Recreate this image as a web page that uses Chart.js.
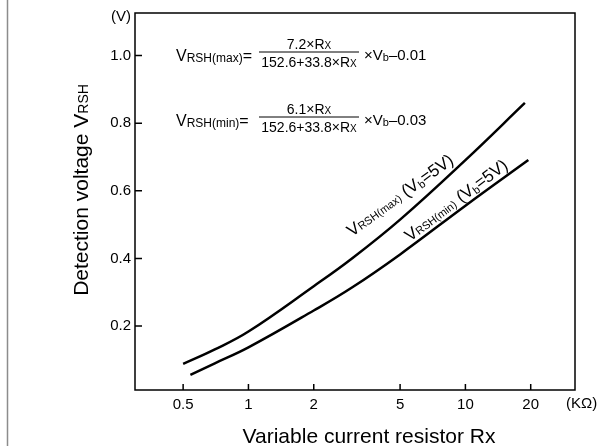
<!DOCTYPE html>
<html lang="en">
<head>
  <meta charset="UTF-8" />
  <title>Detection voltage vs Variable current resistor</title>
  <script src="https://cdn.jsdelivr.net/npm/chart.js"></script>
  <style>
    html, body {
      margin: 0;
      padding: 0;
      background: #fff;
    }
    #wrap {
      position: relative;
      width: 608px;
      height: 446px;
    }
  </style>
</head>
<body>
  <div id="wrap"><canvas id="chart"></canvas></div>

  <script>
    // values (Rx in KΩ, voltage in V)
    const maxRx = [0.5, 0.7, 1, 2, 3, 5, 10, 18.8];
    const maxV  = [0.088, 0.131, 0.184, 0.318, 0.4, 0.515, 0.691, 0.86];
    const minRx = [0.54, 0.7, 1, 2, 3, 5, 10, 19.5];
    const minV  = [0.056, 0.09, 0.137, 0.246, 0.314, 0.412, 0.556, 0.691];

    const xTicks = [0.5, 1, 2, 5, 10, 20];
    const yTicks = [0.2, 0.4, 0.6, 0.8, 1.0];

    const FONT = '"Liberation Sans", Arial, sans-serif';

    function toPoints(xs, ys) {
      return xs.map((x, i) => ({ x: x, y: ys[i] }));
    }

    // draws a row of text pieces [text, size, dy], returns the end x
    function runs(ctx, parts, x, y) {
      parts.forEach(p => {
        ctx.font = p[1] + 'px ' + FONT;
        ctx.fillText(p[0], x, y + (p[2] || 0));
        x += ctx.measureText(p[0]).width;
      });
      return x;
    }
    function runsWidth(ctx, parts) {
      let w = 0;
      parts.forEach(p => {
        ctx.font = p[1] + 'px ' + FONT;
        w += ctx.measureText(p[0]).width;
      });
      return w;
    }

    function fraction(ctx, label, num, den, tail, x, yLine) {
      ctx.textBaseline = 'alphabetic';
      ctx.textAlign = 'left';
      runs(ctx, label, x, yLine + 9);
      const x0 = 259, x1 = 359;
      ctx.lineWidth = 1;
      ctx.beginPath();
      ctx.moveTo(x0, yLine);
      ctx.lineTo(x1, yLine);
      ctx.stroke();
      const cx = (x0 + x1) / 2;
      runs(ctx, num, cx - runsWidth(ctx, num) / 2, yLine - 3);
      runs(ctx, den, cx - runsWidth(ctx, den) / 2, yLine + 15);
      runs(ctx, tail, 364, yLine + 8);
    }

    const decor = {
      id: 'decor',
      beforeDraw(chart) {
        const ctx = chart.ctx;
        ctx.save();
        ctx.fillStyle = '#fff';
        ctx.fillRect(0, 0, chart.width, chart.height);
        ctx.strokeStyle = '#8c8c8c';
        ctx.lineWidth = 1.5;
        ctx.beginPath();
        ctx.moveTo(7.5, 0);
        ctx.lineTo(7.5, chart.height);
        ctx.stroke();
        ctx.restore();
      },
      afterDraw(chart) {
        const ctx = chart.ctx;
        const a = chart.chartArea;
        const xs = chart.scales.x, ys = chart.scales.y;
        ctx.save();
        ctx.strokeStyle = '#000';
        ctx.fillStyle = '#000';

        // frame
        ctx.lineWidth = 1.5;
        ctx.strokeRect(a.left, a.top, a.right - a.left, a.bottom - a.top);

        // inward ticks
        ctx.beginPath();
        yTicks.forEach(v => {
          const py = ys.getPixelForValue(v);
          ctx.moveTo(a.left, py);
          ctx.lineTo(a.left + 7, py);
        });
        xTicks.forEach(v => {
          const px = xs.getPixelForValue(v);
          ctx.moveTo(px, a.bottom);
          ctx.lineTo(px, a.bottom - 6);
        });
        ctx.stroke();

        // units
        ctx.textBaseline = 'middle';
        ctx.textAlign = 'right';
        ctx.font = '15px ' + FONT;
        ctx.fillText('(V)', a.left - 4, 17);
        ctx.textAlign = 'left';
        ctx.fillText('(KΩ)', 566, 404);

        // axis titles
        ctx.textBaseline = 'alphabetic';
        const xt = [['Variable current resistor Rx', 21]];
        runs(ctx, xt, 369 - runsWidth(ctx, xt) / 2, 443);

        const yt = [['Detection voltage V', 21], ['RSH', 14, 0]];
        ctx.save();
        ctx.translate(88, 190);
        ctx.rotate(-Math.PI / 2);
        runs(ctx, yt, -runsWidth(ctx, yt) / 2, 0);
        ctx.restore();

        // formulas
        fraction(ctx,
          [['V', 16], ['RSH(max)', 12, 1], ['=', 16]],
          [['7.2×R', 14], ['X', 10]],
          [['152.6+33.8×R', 14], ['X', 10]],
          [['×V', 15], ['b', 11, 1], ['–0.01', 15]],
          176, 52);
        fraction(ctx,
          [['V', 16], ['RSH(min)', 12, 1], ['=', 16]],
          [['6.1×R', 14], ['X', 10]],
          [['152.6+33.8×R', 14], ['X', 10]],
          [['×V', 15], ['b', 11, 1], ['–0.03', 15]],
          176, 117);

        // curve labels
        const lab = (name) => [['V', 17], [name, 11, 0], [' (V', 17], ['b', 11, 2], ['=5V)', 17]];
        ctx.save();
        ctx.translate(352, 237);
        ctx.rotate(-36 * Math.PI / 180);
        runs(ctx, lab('RSH(max)'), 0, 0);
        ctx.restore();
        ctx.save();
        ctx.translate(410, 242);
        ctx.rotate(-37 * Math.PI / 180);
        runs(ctx, lab('RSH(min)'), 0, 0);
        ctx.restore();

        ctx.restore();
      }
    };

    new Chart(document.getElementById('chart'), {
      type: 'scatter',
      data: {
        datasets: [
          {
            label: 'VRSH(max)',
            data: toPoints(maxRx, maxV),
            showLine: true,
            borderColor: '#000',
            borderWidth: 2.5,
            pointRadius: 0,
            tension: 0.4
          },
          {
            label: 'VRSH(min)',
            data: toPoints(minRx, minV),
            showLine: true,
            borderColor: '#000',
            borderWidth: 2.5,
            pointRadius: 0,
            tension: 0.4
          }
        ]
      },
      options: {
        responsive: true,
        maintainAspectRatio: false,
        animation: false,
        layout: { padding: { top: 10, right: 33, left: 0, bottom: 0 } },
        plugins: {
          legend: { display: false },
          tooltip: { enabled: false }
        },
        scales: {
          x: {
            type: 'logarithmic',
            min: 0.3,
            max: 32,
            grid: { display: false, drawTicks: false },
            border: { display: false },
            afterBuildTicks: s => { s.ticks = xTicks.map(v => ({ value: v })); },
            afterFit: s => { s.height = 56; },
            ticks: {
              padding: 6,
              color: '#000',
              font: { size: 15, family: FONT },
              maxRotation: 0,
              callback: v => String(v)
            }
          },
          y: {
            min: 0.011,
            max: 1.126,
            grid: { display: false, drawTicks: false },
            border: { display: false },
            afterBuildTicks: s => { s.ticks = yTicks.map(v => ({ value: v })); },
            afterFit: s => { s.width = 135; },
            ticks: {
              padding: 4,
              color: '#000',
              font: { size: 15, family: FONT },
              callback: v => v.toFixed(1)
            }
          }
        }
      },
      plugins: [decor]
    });
  </script>
</body>
</html>
